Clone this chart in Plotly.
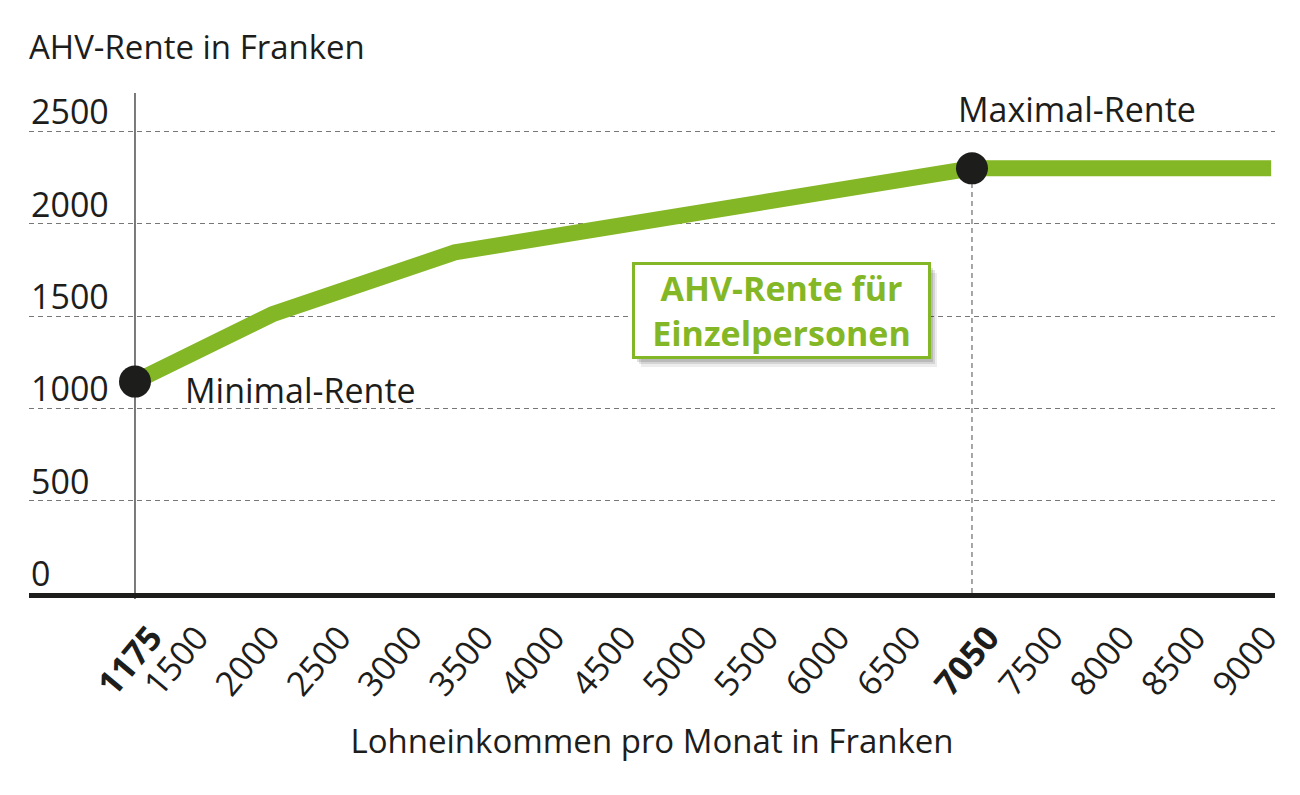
import plotly.graph_objects as go

# Data
income = [1175, 2140, 3420, 7050, 9150]
rente = [1145, 1510, 1845, 2300, 2300]
key_income = [1175, 7050]
key_rente = [1145, 2300]
x_ticks = [1175, 1500, 2000, 2500, 3000, 3500, 4000, 4500, 5000, 5500, 6000,
           6500, 7050, 7500, 8000, 8500, 9000]
x_ticktext = [("<b>%d</b>" % v) if v in (1175, 7050) else str(v) for v in x_ticks]
y_ticks = [0, 500, 1000, 1500, 2000, 2500]

GREEN = "#84b725"
DARK = "#1d1d1b"
FONT = "Open Sans"

fig = go.Figure()
fig.add_trace(go.Scatter(x=income, y=rente, mode="lines",
                         line=dict(color=GREEN, width=16), hoverinfo="skip",
                         showlegend=False))
fig.add_trace(go.Scatter(x=key_income, y=key_rente, mode="markers",
                         marker=dict(color=DARK, size=32), hoverinfo="skip",
                         showlegend=False))

# vertical reference lines
fig.add_shape(type="line", xref="x", yref="paper", x0=1175, x1=1175, y0=-0.012, y1=1,
              line=dict(color="#333333", width=1.3), layer="below")
fig.add_shape(type="line", xref="x", yref="y", x0=7050, x1=7050, y0=0, y1=2300,
              line=dict(color="#777777", width=1.3, dash="5px,4px"), layer="below")

# y tick labels sitting on top of their grid lines
for v in y_ticks:
    fig.add_annotation(text=str(v), xref="paper", yref="y", x=0, y=v,
                       xanchor="left", yanchor="bottom", xshift=0, yshift=-5,
                       showarrow=False, font=dict(family=FONT, size=34, color=DARK))

# annotations
fig.add_annotation(text="AHV-Rente in Franken", xref="paper", yref="paper",
                   x=-0.002, y=1.092, xanchor="left", yanchor="middle", showarrow=False,
                   font=dict(family=FONT, size=33, color=DARK))
fig.add_annotation(text="Minimal-Rente", xref="x", yref="y", x=1512, y=1100,
                   xanchor="left", yanchor="middle", showarrow=False,
                   font=dict(family=FONT, size=34, color=DARK))
fig.add_annotation(text="Maximal-Rente", xref="x", yref="y", x=6938, y=2622,
                   xanchor="left", yanchor="middle", showarrow=False,
                   font=dict(family=FONT, size=34, color=DARK))

box_text = "<b>AHV-Rente für<br>Einzelpersonen</b>"
for dx, dy, a in [(7, 9, 0.07), (5, 6, 0.10), (3, 4, 0.12)]:
    fig.add_annotation(text=" ", xref="x", yref="y", x=5716, y=1528,
                       xshift=dx, yshift=-dy, showarrow=False, width=290, height=88,
                       bgcolor="rgba(0,0,0,%g)" % a, borderwidth=0, borderpad=3,
                       font=dict(family=FONT, size=34))
fig.add_annotation(text=box_text, xref="x", yref="y", x=5716, y=1528,
                   showarrow=False, width=290, height=88,
                   bgcolor="white", bordercolor=GREEN, borderwidth=3, borderpad=1.5,
                   font=dict(family=FONT, size=34, color=GREEN))

fig.update_layout(
    width=1300, height=795,
    margin=dict(l=29, r=25, t=93, b=202),
    paper_bgcolor="white", plot_bgcolor="white",
    font=dict(family=FONT, color=DARK),
    xaxis=dict(range=[431, 9177], tickvals=x_ticks, ticktext=x_ticktext,
               tickangle=-50, tickfont=dict(family=FONT, size=34, color=DARK),
               ticklabelshift=16, ticklabelstandoff=6,
               showgrid=False, zeroline=False, showline=True, linecolor=DARK,
               linewidth=5, ticks="", fixedrange=True,
               title=dict(text="Lohneinkommen pro Monat in Franken",
                          font=dict(family=FONT, size=33, color=DARK), standoff=28)),
    yaxis=dict(range=[0, 2708], tickvals=y_ticks, showticklabels=False,
               showgrid=True, gridcolor="#777777", gridwidth=1.3, griddash="5px,4px",
               zeroline=False, showline=False, ticks="", fixedrange=True),
)

fig.write_html("out.html")
